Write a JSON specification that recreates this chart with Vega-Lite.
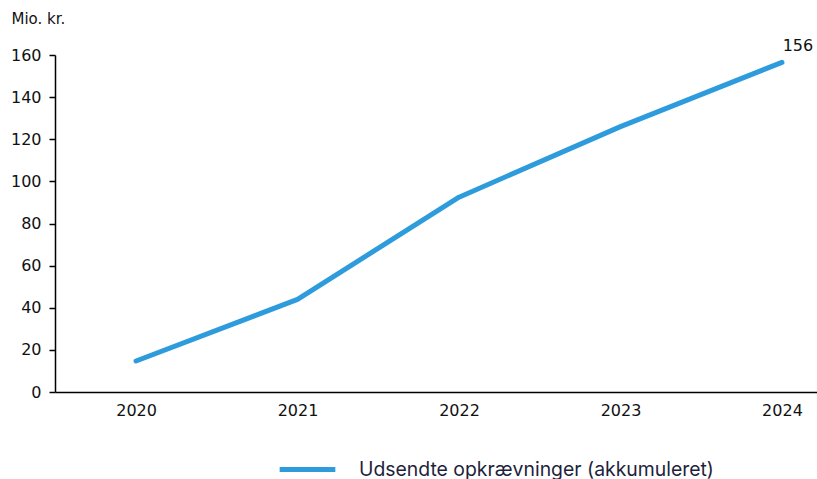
{
  "$schema": "https://vega.github.io/schema/vega-lite/v6.json",
  "autosize": {"type": "none"},
  "padding": {"left": 55, "top": 55, "right": 0, "bottom": 87},
  "width": 762,
  "height": 337,
  "background": "white",
  "config": {"view": {"stroke": null}, "font": "DejaVu Sans"},
  "data": {"values": [
    {"year": 2020, "value": 14.7, "series": "Udsendte opkrævninger (akkumuleret)"},
    {"year": 2021, "value": 44, "series": "Udsendte opkrævninger (akkumuleret)"},
    {"year": 2022, "value": 92.5, "series": "Udsendte opkrævninger (akkumuleret)"},
    {"year": 2023, "value": 126, "series": "Udsendte opkrævninger (akkumuleret)"},
    {"year": 2024, "value": 156.5, "series": "Udsendte opkrævninger (akkumuleret)", "label": "156"}
  ]},
  "layer": [
    {
      "mark": {"type": "line", "strokeWidth": 5, "strokeCap": "round", "strokeJoin": "round"},
      "encoding": {
        "x": {"field": "year", "type": "quantitative",
          "scale": {"domain": [2019.498, 2024.217], "nice": false, "zero": false},
          "axis": {"values": [2020, 2021, 2022, 2023, 2024], "format": "d", "title": null, "grid": false,
            "ticks": false, "domainColor": "#000000", "domainWidth": 1.5, "labelFontSize": 16,
            "labelColor": "#111111", "labelPadding": 10, "labelFlush": false}},
        "y": {"field": "value", "type": "quantitative",
          "scale": {"domain": [0, 160], "nice": false},
          "axis": {"values": [0, 20, 40, 60, 80, 100, 120, 140, 160], "grid": false, "title": "Mio. kr.",
            "titleAngle": 0, "titleX": -44, "titleY": -37, "titleAlign": "left", "titleBaseline": "middle",
            "titleFontSize": 15, "titleFontWeight": "normal", "titleColor": "#111111",
            "domainColor": "#000000", "domainWidth": 1.5, "tickColor": "#000000", "tickSize": 6, "tickWidth": 1.5,
            "labelFontSize": 16, "labelColor": "#111111", "labelPadding": 8}},
        "color": {"field": "series", "type": "nominal",
          "scale": {"range": ["#2E9CDC"]},
          "legend": {"title": null, "orient": "none", "legendX": 222, "legendY": 384,
            "symbolType": "stroke", "symbolSize": 3100, "symbolStrokeWidth": 5,
            "labelFontSize": 19.4, "labelFont": "Inter", "labelColor": "#1f1f3d", "labelOffset": 21,
            "labelLimit": 600}}
      }
    },
    {
      "transform": [{"filter": "datum.label != null"}],
      "mark": {"type": "text", "dx": 16, "dy": -16, "fontSize": 16, "color": "#111111", "font": "DejaVu Sans"},
      "encoding": {
        "x": {"field": "year", "type": "quantitative"},
        "y": {"field": "value", "type": "quantitative"},
        "text": {"field": "label"}
      }
    }
  ]
}
